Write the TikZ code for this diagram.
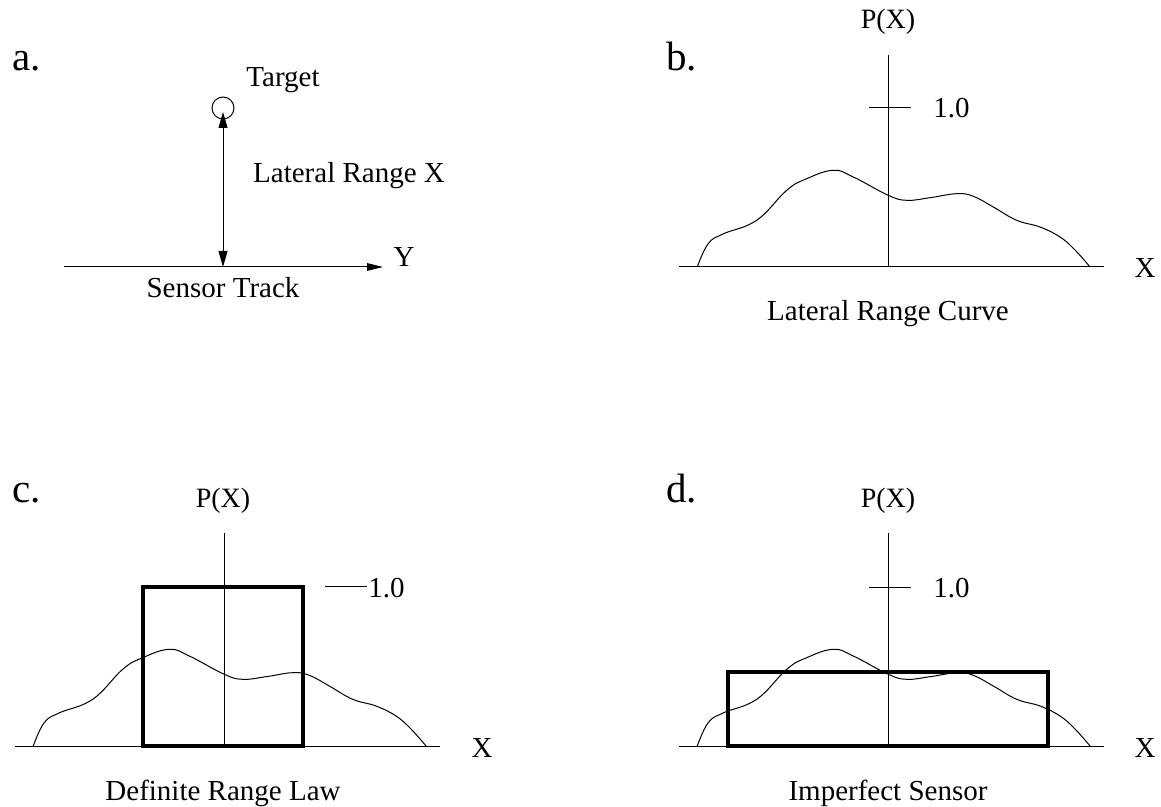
\documentclass[tikz,border=0pt]{standalone}
\usepackage{fontspec}
\setmainfont{Liberation Serif}
\usetikzlibrary{arrows.meta}
\tikzset{
  thinline/.style={line width=0.5pt, line cap=butt},
  thickrect/.style={line width=1.8pt, line join=miter},
  txt/.style={inner sep=0pt, anchor=base, font=\fontsize{14.5}{17}\selectfont},
  txtl/.style={txt, anchor=base west},
  pxt/.style={txt, font=\fontsize{14}{17}\selectfont},
  plabel/.style={inner sep=0pt, anchor=base west, font=\fontsize{20.5}{24}\selectfont},
  vtip/.style={{Triangle[length=8pt,width=4.5pt]}-{Triangle[length=8pt,width=4.5pt]}},
  htip/.style={-{Triangle[length=8pt,width=3.8pt]}},
  lrc/.pic={\draw[thinline] plot[smooth,tension=0.7] coordinates{
    (-190.7,0) (-180,-23) (-165,-33) (-131.3,-46.7)
    (-101.3,-76.7) (-81.3,-88.3) (-54.7,-96.7) (-34.7,-90) 
    (0.3,-71.7) (18.7,-66.7) (42,-69.3) (68.7,-73.3) (85.3,-70.7) (105.3,-60)
    (128.7,-46.7) (152,-40) (172,-30) (187,-17) (202,0)};}
}
\begin{document}
\begin{tikzpicture}[x=0.5pt,y=-0.5pt]
\useasboundingbox (0,0) rectangle (1161,807);

% ---------- panel a ----------
\node[plabel] (la) at (12,71) {a.};
\node[circle, draw, thinline, minimum size=11pt, inner sep=0pt] (target) at (223,108) {};
\coordinate (atop) at (223,112);
\coordinate (abot) at (223,267);
\coordinate (trL) at (64,267);
\coordinate (trR) at (383,267);
\draw[thinline, vtip] (atop) -- (abot);
\draw[thinline, htip] (trL) -- (trR);
\node[txt] (tTarget) at (283,87) {Target};
\node[txt] (tLat) at (349,183) {Lateral Range X};
\node[txt] (tY) at (404,267) {Y};
\node[txt] (tTrack) at (223,298) {Sensor Track};

% ---------- panel b ----------
\node[plabel] (lb) at (666,71) {b.};
\pic at (888,267) {lrc};
\coordinate (bxL) at (679,267);
\coordinate (bxR) at (1104,267);
\coordinate (byT) at (888,55);
\coordinate (byB) at (888,267);
\coordinate (btL) at (869,108);
\coordinate (btR) at (911,108);
\draw[thinline] (bxL) -- (bxR);
\draw[thinline] (byT) -- (byB);
\draw[thinline] (btL) -- (btR);
\node[pxt] (bP) at (888,29) {P(X)};
\node[txtl] (b1) at (933,118) {1.0};
\node[txt] (bX) at (1145,278) {X};
\node[txt] (bcap) at (888,321) {Lateral Range Curve};

% ---------- panel c ----------
\node[plabel] (lc) at (12,502) {c.};
\pic at (224,746) {lrc};
\coordinate (cxL) at (15,746);
\coordinate (cxR) at (440,746);
\coordinate (cyT) at (224,533);
\coordinate (cyB) at (224,746);
\coordinate (ctL) at (325,586);
\coordinate (ctR) at (367,586);
\draw[thinline] (cxL) -- (cxR);
\draw[thinline] (cyT) -- (cyB);
\draw[thinline] (ctL) -- (ctR);
\coordinate (cr1) at (143,746);
\coordinate (cr2) at (303,587);
\draw[thickrect] (cr1) rectangle (cr2);
\node[pxt] (cP) at (223,507) {P(X)};
\node[txtl] (c1) at (368,597) {1.0};
\node[txt] (cX) at (482,757) {X};
\node[txt] (ccap) at (223,800) {Definite Range Law};

% ---------- panel d ----------
\node[plabel] (ld) at (666,502) {d.};
\pic at (888,746) {lrc};
\coordinate (dxL) at (679,746);
\coordinate (dxR) at (1104,746);
\coordinate (dyT) at (888,533);
\coordinate (dyB) at (888,746);
\coordinate (dtL) at (869,587);
\coordinate (dtR) at (911,587);
\draw[thinline] (dxL) -- (dxR);
\draw[thinline] (dyT) -- (dyB);
\draw[thinline] (dtL) -- (dtR);
\coordinate (dr1) at (728,746);
\coordinate (dr2) at (1048,672);
\draw[thickrect] (dr1) rectangle (dr2);
\node[pxt] (dP) at (888,507) {P(X)};
\node[txtl] (d1) at (933,597) {1.0};
\node[txt] (dX) at (1145,757) {X};
\node[txt] (dcap) at (888,800) {Imperfect Sensor};
\end{tikzpicture}
\end{document}
